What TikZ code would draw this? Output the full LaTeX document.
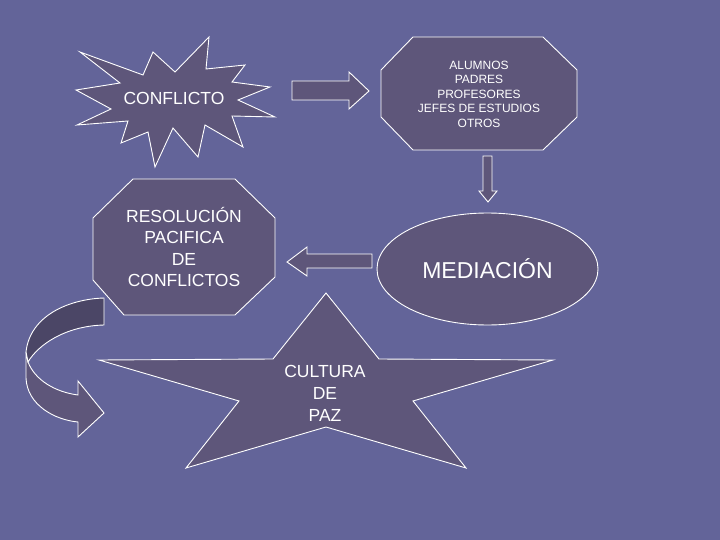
\documentclass[tikz,border=0pt]{standalone}
\usepackage{fontspec}
\setmainfont{Liberation Sans}
\usetikzlibrary{shapes.geometric}
\definecolor{bgblue}{RGB}{99,100,153}
\definecolor{shapefill}{RGB}{94,86,122}
\definecolor{darkfill}{RGB}{75,70,102}

\begin{document}
\begin{tikzpicture}[x=1pt,y=-1pt,shp/.style={draw=white,fill=shapefill,line width=0.9pt},lbl/.style={text=white,align=center,inner sep=0pt},ell/.style={shp,ellipse,minimum width=221pt,minimum height=112pt,inner sep=0pt,text=white,font=\fontsize{23}{27}\selectfont}]
\fill[bgblue] (0,0) rectangle (720,540);\useasboundingbox (0,0) rectangle (720,540);
% conflict burst
\draw[shp] (80,52) -- (143,75) -- (153,52) -- (175,72) -- (209,37) -- (206,69) -- (245,65) -- (232,82) -- (270,87) -- (238,100) -- (275,117) -- (232,116) -- (243,147) -- (205,125) -- (198,157) -- (173,128) -- (155,167) -- (148,132) -- (121,143) -- (128,121) -- (77,125) -- (111,109) -- (76,90) -- (120,83) -- cycle;
\node[lbl,font=\fontsize{17.5}{21}\selectfont] (conf) at (174,98){CONFLICTO};
% who takes part
\draw[shp] (381,70) -- (413,37) -- (543,37) -- (577,70) -- (577,117) -- (543,150) -- (413,150) -- (381,117) -- cycle;
\node[lbl,font=\fontsize{12}{14.5}\selectfont] (who) at (479,94){ALUMNOS\\PADRES\\PROFESORES\\JEFES DE ESTUDIOS\\OTROS};
% resolution
\draw[shp] (93,218) -- (133,179) -- (235,179) -- (275,218) -- (275,277) -- (235,315) -- (124,315) -- (93,280) -- cycle;
\node[lbl,font=\fontsize{17.5}{21.3}\selectfont] (res) at (184,247){RESOLUCIÓN\\PACIFICA\\DE\\CONFLICTOS};
% mediation
\node[ell] (med) at (487.5,269){MEDIACIÓN};
% star
\draw[shp] (326,293) -- (379,359) -- (553,360) -- (413,401) -- (466,468) -- (326,427) -- (186,468) -- (239,401) -- (99,360) -- (273,359) -- cycle;
\node[lbl,font=\fontsize{17.5}{22}\selectfont] (paz) at (325,393){CULTURA\\DE\\PAZ};
% block arrows
\draw[shp] (292,81) -- (349,81) -- (349,72) -- (369,91) -- (349,109) -- (349,100) -- (292,100) -- cycle;
\draw[shp] (483,156) -- (492,156) -- (492,191) -- (497,191) -- (488,202) -- (479,191) -- (483,191) -- cycle;
\draw[shp] (372,254) -- (307,254) -- (307,247) -- (287,262) -- (307,276) -- (307,268) -- (372,268) -- cycle;
% curved arrow
\draw[shp] (26,352) -- (26,378) .. controls (27,405) and (55,420) .. (78,422) -- (78,437) -- (104,413) -- (78,381) -- (78,395) .. controls (55,392) and (35,380) .. (28,362) -- cycle;
\draw[shp,fill=darkfill] (104,298) .. controls (70,299) and (30,315) .. (26,352) -- (28,362) .. controls (38,345) and (65,326) .. (104,325) -- cycle;
\end{tikzpicture}
\end{document}
